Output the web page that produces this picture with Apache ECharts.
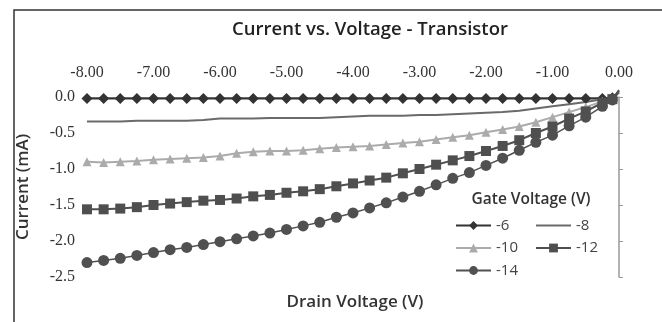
<!DOCTYPE html>
<html>
<head>
<meta charset="utf-8">
<script src="https://cdn.jsdelivr.net/npm/echarts@6.0.0/dist/echarts.min.js"></script>
<style>
html,body{margin:0;padding:0;background:#fff;}
#chart{width:662px;height:322px;}
</style>
</head>
<body>
<div id="chart"></div>
<script>
// Drain voltage (V)
const drainVoltage = [-8.00,-7.75,-7.50,-7.25,-7.00,-6.75,-6.50,-6.25,-6.00,-5.75,-5.50,-5.25,-5.00,-4.75,-4.50,-4.25,-4.00,-3.75,-3.50,-3.25,-3.00,-2.75,-2.50,-2.25,-2.00,-1.75,-1.50,-1.25,-1.00,-0.75,-0.50,-0.25,-0.10,0.00];
// Current (mA) for each gate voltage
const gate6  = [-0.02,-0.02,-0.02,-0.02,-0.02,-0.02,-0.02,-0.02,-0.02,-0.02,-0.02,-0.02,-0.02,-0.02,-0.02,-0.02,-0.02,-0.02,-0.02,-0.02,-0.02,-0.02,-0.02,-0.02,-0.02,-0.02,-0.02,-0.02,-0.02,-0.02,-0.02,-0.02,-0.01,0.06];
const gate8  = [-0.34,-0.34,-0.34,-0.33,-0.33,-0.33,-0.33,-0.32,-0.30,-0.30,-0.30,-0.29,-0.29,-0.29,-0.29,-0.28,-0.27,-0.26,-0.26,-0.26,-0.25,-0.25,-0.24,-0.23,-0.22,-0.21,-0.19,-0.16,-0.13,-0.10,-0.07,-0.03,-0.01,0.07];
const gate10 = [-0.90,-0.91,-0.90,-0.89,-0.87,-0.86,-0.85,-0.84,-0.82,-0.78,-0.76,-0.75,-0.75,-0.74,-0.72,-0.70,-0.69,-0.68,-0.66,-0.64,-0.62,-0.59,-0.56,-0.53,-0.49,-0.45,-0.41,-0.35,-0.28,-0.21,-0.14,-0.06,-0.02,0.09];
const gate12 = [-1.56,-1.56,-1.55,-1.53,-1.50,-1.48,-1.46,-1.44,-1.43,-1.41,-1.38,-1.36,-1.33,-1.31,-1.28,-1.24,-1.20,-1.16,-1.12,-1.06,-1.00,-0.94,-0.88,-0.82,-0.75,-0.68,-0.60,-0.50,-0.41,-0.30,-0.20,-0.08,-0.03,0.09];
const gate14 = [-2.30,-2.27,-2.24,-2.20,-2.16,-2.12,-2.09,-2.05,-2.01,-1.97,-1.93,-1.89,-1.84,-1.79,-1.74,-1.67,-1.61,-1.54,-1.47,-1.39,-1.31,-1.22,-1.13,-1.05,-0.95,-0.85,-0.74,-0.63,-0.53,-0.40,-0.28,-0.13,-0.04,0.10];
const seriesNames = ['-6','-8','-10','-12','-14'];
const xTicks = {min:-8, max:0, interval:1};
const yTicks = {min:-2.5, max:0, interval:0.5};

const chart = echarts.init(document.getElementById('chart'), null, {renderer:'canvas'});
const pair = ys => drainVoltage.map((x,i)=>[x, ys[i]]);
const lastIdx = drainVoltage.length - 1;
function mk(name, ys, color, symbol, size, width){
  return {
    name, type:'line', data: pair(ys), clip:false,
    symbol, showSymbol: symbol !== 'none',
    symbolSize: (v, p) => p.dataIndex === lastIdx ? 0 : size,
    lineStyle:{color, width}, itemStyle:{color},
    emphasis:{disabled:true}, animation:false, z: 3
  };
}
const sansFont = '"Open Sans", "Noto Sans", sans-serif';
const serifFont = '"Liberation Serif", serif';
const legendText = {fontFamily:sansFont, fontSize:15, color:'#444'};
const option = {
  backgroundColor:'#fff',
  animation:false,
  grid:{left:87, right:43, top:97, height:180, containLabel:false},
  xAxis:{
    type:'value', position:'top', min:xTicks.min, max:xTicks.max, interval:xTicks.interval,
    axisLine:{show:true, lineStyle:{color:'#a0a0a0', width:1}},
    axisTick:{show:false}, splitLine:{show:false},
    axisLabel:{margin:16, formatter:v=>v.toFixed(2), fontFamily:serifFont, fontSize:16, color:'#333'}
  },
  yAxis:[{
    type:'value', position:'left', min:yTicks.min, max:yTicks.max, interval:yTicks.interval,
    axisLine:{show:false}, axisTick:{show:false}, splitLine:{show:false},
    axisLabel:{margin:12, formatter:v=>(Math.abs(v)<1e-9?0:v).toFixed(1), fontFamily:serifFont, fontSize:16, color:'#333'},
    name:'Current (mA)', nameLocation:'middle', nameGap:55, nameRotate:90,
    nameTextStyle:{fontFamily:sansFont, fontWeight:600, fontSize:17, color:'#333'}
  },{
    type:'value', position:'right', min:yTicks.min, max:yTicks.max, interval:yTicks.interval,
    axisLine:{show:true, lineStyle:{color:'#999', width:1.5}},
    axisTick:{show:true, inside:false, length:4, lineStyle:{color:'#999'}},
    axisLabel:{show:false}, splitLine:{show:false}
  }],
  legend:[{
    data:['-6','-10','-14'], orient:'vertical', left:450, top:213, itemGap:7.5,
    itemWidth:35, itemHeight:11, textStyle:legendText, selectedMode:false
  },{
    data:[{name:'-8', icon:'path://M0,0 L40,0 L40,2.2 L0,2.2 Z'},'-12'], orient:'vertical', left:530, top:213, itemGap:7.5,
    itemWidth:35, itemHeight:11, textStyle:legendText, selectedMode:false
  }],
  graphic:[
    {type:'rect', shape:{x:14, y:10, width:700, height:400}, style:{fill:'none', stroke:'#333', lineWidth:1.5}, silent:true},
    {type:'text', x:370, y:30, style:{text:'Current vs. Voltage - Transistor', fontFamily:sansFont, fontWeight:600, fontSize:18.5, fill:'#222', textAlign:'center', textVerticalAlign:'middle'}},
    {type:'text', x:531, y:200, style:{text:'Gate Voltage (V)', fontFamily:sansFont, fontWeight:600, fontSize:15.5, fill:'#333', textAlign:'center', textVerticalAlign:'middle'}},
    {type:'text', x:355, y:302, style:{text:'Drain Voltage (V)', fontFamily:sansFont, fontWeight:600, fontSize:17, fill:'#333', textAlign:'center', textVerticalAlign:'middle'}}
  ],
  series:[
    mk(seriesNames[0], gate6, '#333333', 'diamond', 11, 2),
    mk(seriesNames[1], gate8, '#6a6a6a', 'none', 0, 2),
    mk(seriesNames[2], gate10, '#ababab', 'triangle', 9, 2),
    mk(seriesNames[3], gate12, '#4f4f4f', 'rect', 10, 2),
    mk(seriesNames[4], gate14, '#505050', 'circle', 11, 1.5)
  ]
};
chart.setOption(option);
</script>
</body>
</html>
